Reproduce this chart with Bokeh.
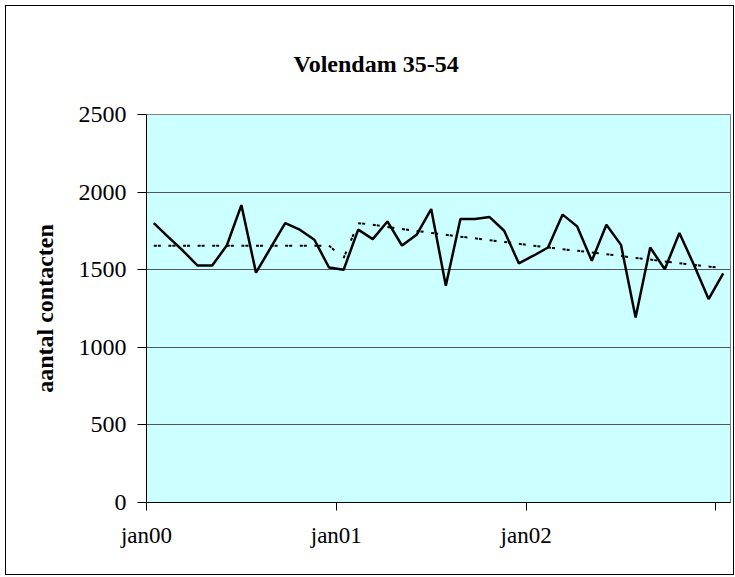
from bokeh.plotting import figure
from bokeh.models import FixedTicker, Range1d
from bokeh.embed import file_html
from bokeh.resources import INLINE

# four-week periods, jan00 .. jan03
periods = list(range(40))
tick_positions = [0, 13, 26, 39]
tick_labels = ["jan00", "jan01", "jan02", ""]

contacts = [1800, 1710, 1622, 1527, 1527, 1656, 1916, 1481, 1640, 1800,
            1758, 1693, 1514, 1499, 1758, 1697, 1811, 1656, 1725, 1891,
            1397, 1826, 1826, 1839, 1751, 1541, 1590, 1643, 1855, 1779,
            1557, 1790, 1660, 1192, 1643, 1503, 1736, 1530, 1311, 1477]

trend = [1655, 1655, 1655, 1655, 1655, 1655, 1655, 1655, 1655, 1655,
         1655, 1655, 1655, 1575, 1800, 1790, 1775, 1762, 1750, 1737,
         1725, 1713, 1702, 1690, 1679, 1667, 1655, 1643, 1632, 1622,
         1611, 1600, 1588, 1576, 1565, 1553, 1542, 1531, 1520, 1510]

title_text = "Volendam 35-54"
y_label = "aantal contacten"

xs = [i + 0.5 for i in periods]

FONT = "Liberation Serif"

p = figure(width=729, height=570, output_backend="svg", toolbar_location=None,
           x_range=Range1d(0, len(periods)), y_range=Range1d(0, 2500),
           title=title_text, min_border_left=140, min_border_right=5,
           min_border_top=108, min_border_bottom=74)
p.styles = {"border": "1px solid black", "margin-left": "5px", "margin-top": "5px"}

p.title.align = "left"
p.title.offset = 147
p.title.text_font = FONT
p.title.text_font_size = "24px"
p.title.text_font_style = "bold"
p.title.text_color = "black"
p.title.standoff = 76

p.background_fill_color = "#CCFFFF"
p.border_fill_color = "white"
p.outline_line_color = "#808080"
p.outline_line_width = 1

# axes
p.xaxis.ticker = FixedTicker(ticks=tick_positions)
p.xaxis.major_label_overrides = {t: l for t, l in zip(tick_positions, tick_labels)}
p.yaxis.ticker = FixedTicker(ticks=[0, 500, 1000, 1500, 2000, 2500])

for ax in (p.xaxis[0], p.yaxis[0]):
    ax.axis_line_color = "black"
    ax.axis_line_width = 1
    ax.major_tick_line_color = "black"
    ax.major_tick_in = 0
    ax.minor_tick_line_color = None
    ax.major_label_text_font = FONT
    ax.major_label_text_font_size = "23px"
    ax.major_label_text_color = "black"

p.yaxis.major_label_text_font_size = "24px"
p.xaxis.major_tick_out = 8
p.xaxis.major_label_standoff = 12
p.yaxis.major_tick_out = 9
p.yaxis.major_label_standoff = 11

p.yaxis.axis_label = y_label
p.yaxis.axis_label_text_font = FONT
p.yaxis.axis_label_text_font_size = "24px"
p.yaxis.axis_label_text_font_style = "bold"
p.yaxis.axis_label_text_color = "black"
p.yaxis.axis_label_standoff = 18

p.xgrid.grid_line_color = None
p.ygrid.ticker = FixedTicker(ticks=[500, 1000, 1500, 2000])
p.ygrid.grid_line_color = "#555555"
p.ygrid.grid_line_width = 1

# trend (dashed, pattern restarting at each point)
p.segment(x0=xs[:-1], y0=trend[:-1], x1=xs[1:], y1=trend[1:],
          line_color="black", line_width=2, line_dash="3 1 3 12")

# actual contacts
p.line(xs, contacts, line_color="black", line_width=2.5)

open("out.html", "w").write(file_html(p, INLINE))
